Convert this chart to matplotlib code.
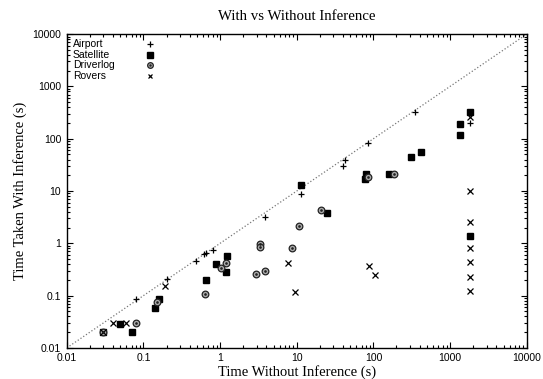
import matplotlib.pyplot as plt
import numpy as np
from matplotlib.ticker import LogLocator, FixedLocator, NullFormatter

# times without / with inference (s)
airport_x = [0.08, 0.2, 0.48, 0.625, 0.66, 0.8, 3.8, 11.5, 40, 43, 86, 350, 1800]
airport_y = [0.087, 0.205, 0.46, 0.62, 0.65, 0.76, 3.25, 8.7, 29.7, 40, 81.5, 330, 197]

satellite_x = [0.03, 0.05, 0.07, 0.14, 0.16, 0.66, 0.89, 1.18, 1.22, 11.4, 24.5,
               77, 79, 158, 306, 413, 1330, 1330, 1800, 1800]
satellite_y = [0.02, 0.029, 0.02, 0.058, 0.087, 0.2, 0.4, 0.28, 0.58, 13, 3.75,
               16.7, 20.8, 20.8, 44, 55, 120, 190, 320, 1.36]

driverlog_x = [0.03, 0.08, 0.15, 0.63, 1.04, 1.2, 2.95, 3.3, 3.3, 3.9, 8.7, 10.7,
               20.7, 86, 187]
driverlog_y = [0.02, 0.03, 0.077, 0.106, 0.338, 0.415, 0.255, 0.95, 0.85, 0.295,
               0.8, 2.1, 4.4, 18.8, 21.4]

rovers_x = [0.03, 0.04, 0.06, 0.19, 7.6, 9.5, 88, 104, 1800, 1800, 1800, 1800,
            1800, 1800, 1800]
rovers_y = [0.02, 0.03, 0.03, 0.15, 0.42, 0.116, 0.37, 0.25, 260, 10, 2.6, 0.82,
            0.44, 0.23, 0.124]

decades = [0.01, 0.1, 1, 10, 100, 1000, 10000]
tick_labels = ['0.01', '0.1', '1', '10', '100', '1000', '10000']

sans = ['Liberation Sans', 'DejaVu Sans']
serif = ['Liberation Serif', 'DejaVu Serif']

# marker styles per domain
styles = {
    'Airport':   dict(marker='+', color='black', ms=5, mew=0.9),
    'Satellite': dict(marker='s', color='black', ms=4.3),
    'Driverlog': dict(marker='o', mfc='#aaaaaa', mec='#222222', ms=4.8, mew=0.9),
    'Rovers':    dict(marker='x', color='black', ms=4, mew=0.9),
}
series = [('Airport', airport_x, airport_y), ('Satellite', satellite_x, satellite_y),
          ('Driverlog', driverlog_x, driverlog_y), ('Rovers', rovers_x, rovers_y)]

fig = plt.figure(figsize=(5.43, 3.79), dpi=100)
ax = fig.add_axes([0.123, 0.082, 0.847, 0.828])

ax.plot(decades, decades, ':', color='#777777', lw=0.9, zorder=1)

for name, xs, ys in series:
    ax.plot(xs, ys, ls='none', zorder=3, **styles[name])
ax.plot(driverlog_x, driverlog_y, '.', color='#222222', ms=1.8, ls='none', zorder=4)

# gnuplot-style key: label on the left, symbol on the right
for i, (name, xs, ys) in enumerate(series):
    yk = 0.967 - i * 0.033
    ax.text(0.013, yk, name, transform=ax.transAxes, fontfamily=sans, fontsize=7.5,
            va='center', ha='left')
    ax.plot([0.18], [yk], transform=ax.transAxes, ls='none', clip_on=False, zorder=5,
            **{**styles[name], 'ms': styles[name]['ms'] * 0.85})
    if name == 'Driverlog':
        ax.plot([0.18], [yk], '.', transform=ax.transAxes, color='#222222', ms=1.5,
                clip_on=False, zorder=6)

ax.set_xscale('log')
ax.set_yscale('log')
ax.set_xlim(0.01, 10000)
ax.set_ylim(0.01, 10000)

ax.xaxis.set_major_locator(FixedLocator(decades))
ax.yaxis.set_major_locator(FixedLocator(decades))
ax.set_xticklabels(tick_labels, fontfamily=sans, fontsize=7.5)
ax.set_yticklabels(tick_labels, fontfamily=sans, fontsize=7.5)
ax.xaxis.set_minor_locator(LogLocator(base=10, subs=(2, 3, 4, 5, 6, 7, 8, 9), numticks=20))
ax.yaxis.set_minor_locator(LogLocator(base=10, subs=(2, 3, 4, 5, 6, 7, 8, 9), numticks=20))
ax.xaxis.set_minor_formatter(NullFormatter())
ax.yaxis.set_minor_formatter(NullFormatter())
ax.tick_params(which='both', direction='in', top=True, right=True, width=0.8)
ax.tick_params(which='major', length=4, pad=4)
ax.tick_params(which='minor', length=2)
for s in ax.spines.values():
    s.set_linewidth(1.0)

ax.set_title('With vs Without Inference', fontfamily=serif, fontsize=10.7, pad=10)
ax.set_xlabel('Time Without Inference (s)', fontfamily=serif, fontsize=10.5, labelpad=1)
ax.set_ylabel('Time Taken With Inference (s)', fontfamily=serif, fontsize=10.5, labelpad=4)

fig.savefig('out.png', dpi=100)
